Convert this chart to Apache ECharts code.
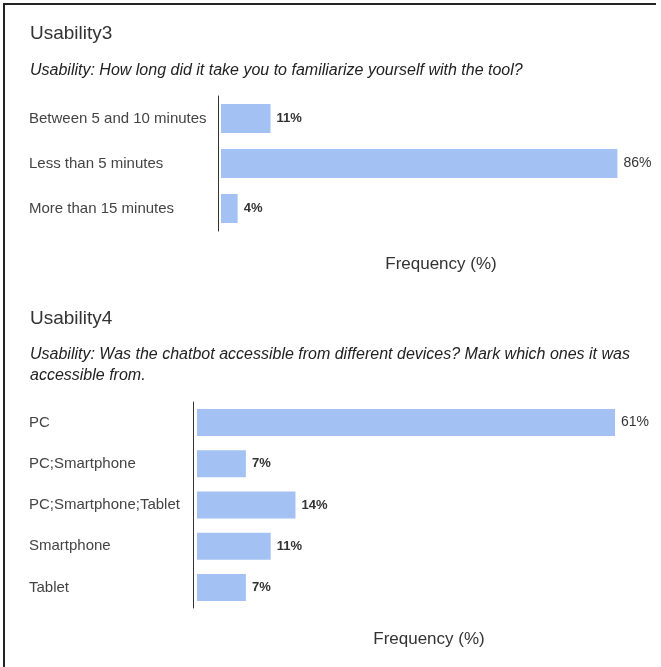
<!DOCTYPE html>
<html>
<head>
<meta charset="utf-8">
<script src="https://cdn.jsdelivr.net/npm/echarts@6/dist/echarts.min.js"></script>
<style>
html,body{margin:0;padding:0;background:#fff;}
#main{width:661px;height:667px;}
</style>
</head>
<body>
<div id="main"></div>
<script>
// ---- data ----
const title1 = 'Usability3';
const subtitle1 = 'Usability: How long did it take you to familiarize yourself with the tool?';
const categories1 = ['Between 5 and 10 minutes', 'Less than 5 minutes', 'More than 15 minutes'];
const values1 = [10.7, 85.7, 3.6];

const title2 = 'Usability4';
const subtitle2 = 'Usability: Was the chatbot accessible from different devices? Mark which ones it was\naccessible from.';
const categories2 = ['PC', 'PC;Smartphone', 'PC;Smartphone;Tablet', 'Smartphone', 'Tablet'];
const values2 = [60.7, 7.1, 14.3, 10.7, 7.1];

const axisName = 'Frequency (%)';

// ---- chart ----
const FONT = '"Liberation Sans", Arial, sans-serif';
const BAR = '#a3c2f3';
const chart = echarts.init(document.getElementById('main'));

function labelFor(vals) {
  const mx = Math.max(...vals);
  return {
    show: true,
    position: 'right',
    distance: 6,
    formatter: p => (p.value === mx ? '{n|' : '{b|') + Math.round(p.value) + '%}',
    rich: {
      b: { fontFamily: FONT, fontSize: 13, fontWeight: 'bold', color: '#333' },
      n: { fontFamily: FONT, fontSize: 14, fontWeight: 'normal', color: '#333' }
    }
  };
}

const titleStyle = { fontFamily: FONT, fontSize: 19, fontWeight: 'normal', color: '#333' };
const subStyle = { fontFamily: FONT, fontSize: 16, fontStyle: 'italic', fontWeight: 'normal', color: '#222', lineHeight: 21 };

chart.setOption({
  animation: false,
  backgroundColor: '#fff',
  title: [
    { text: title1, left: 30, top: 24, padding: 0, textStyle: titleStyle },
    { text: subtitle1, left: 30, top: 60, padding: 0, textStyle: subStyle },
    { text: title2, left: 30, top: 309, padding: 0, textStyle: titleStyle },
    { text: subtitle2, left: 30, top: 344, padding: 0, textStyle: subStyle }
  ],
  grid: [
    { left: 221, right: 0, top: 96, height: 135 },
    { left: 197, right: 0, top: 402, height: 206 }
  ],
  xAxis: [
    { gridIndex: 0, type: 'value', min: 0, max: v => v.max * 1.11,
      name: axisName, nameLocation: 'middle', nameGap: 25,
      nameTextStyle: { fontFamily: FONT, fontSize: 17, color: '#333' },
      axisLine: { show: false }, axisTick: { show: false }, axisLabel: { show: false }, splitLine: { show: false } },
    { gridIndex: 1, type: 'value', min: 0, max: v => v.max * 1.11,
      name: axisName, nameLocation: 'middle', nameGap: 23,
      nameTextStyle: { fontFamily: FONT, fontSize: 17, color: '#333' },
      axisLine: { show: false }, axisTick: { show: false }, axisLabel: { show: false }, splitLine: { show: false } }
  ],
  yAxis: [
    { gridIndex: 0, type: 'category', data: categories1, inverse: true, offset: 3,
      axisLine: { show: true, onZero: false, lineStyle: { color: '#333', width: 1 } }, axisTick: { show: false },
      axisLabel: { align: 'left', margin: 189, fontFamily: FONT, fontSize: 15, color: '#444' } },
    { gridIndex: 1, type: 'category', data: categories2, inverse: true, offset: 4,
      axisLine: { show: true, onZero: false, lineStyle: { color: '#333', width: 1 } }, axisTick: { show: false },
      axisLabel: { align: 'left', margin: 164, fontFamily: FONT, fontSize: 15, color: '#444' } }
  ],
  series: [
    { type: 'bar', xAxisIndex: 0, yAxisIndex: 0, data: values1, barWidth: 29,
      itemStyle: { color: BAR }, label: labelFor(values1) },
    { type: 'bar', xAxisIndex: 1, yAxisIndex: 1, data: values2, barWidth: 27,
      itemStyle: { color: BAR }, label: labelFor(values2) }
  ],
  graphic: [
    { type: 'line', shape: { x1: 3, y1: 4, x2: 656, y2: 4 }, style: { stroke: '#222', lineWidth: 2 } },
    { type: 'line', shape: { x1: 4, y1: 3, x2: 4, y2: 667 }, style: { stroke: '#222', lineWidth: 2 } }
  ]
});
</script>
</body>
</html>
